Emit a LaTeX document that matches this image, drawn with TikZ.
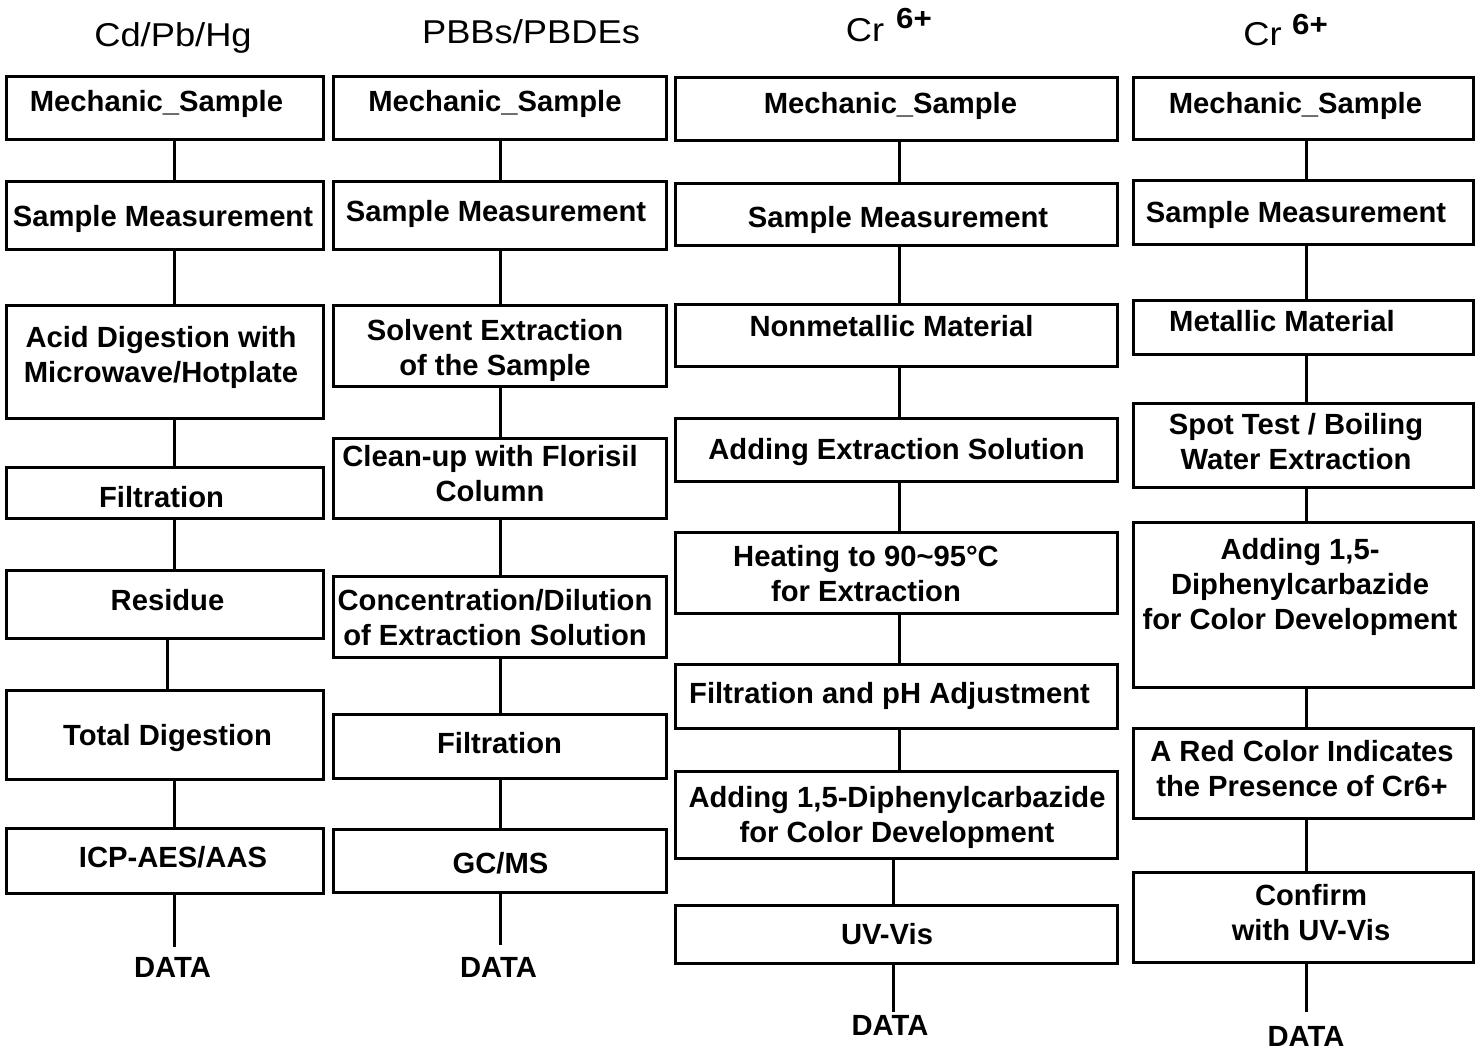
\documentclass[tikz,border=0pt]{standalone}
\usepackage{fontspec}
\setmainfont{Liberation Sans}
\usepackage{tikz}

\tikzset{
  box/.style 2 args={draw, line width=1.5pt, inner sep=0pt, minimum width=#1*0.5pt, minimum height=#2*0.5pt},
  txt/.style={inner sep=0pt, align=center, font=\fontsize{14.6}{17.5}\selectfont\bfseries},
  head/.style={inner sep=0pt, xscale=1.1, font=\fontsize{16.5}{20}\selectfont},
  supr/.style={inner sep=0pt, xscale=1.08, font=\fontsize{14.5}{17}\selectfont\bfseries},
  link/.style={line width=1.5pt},
}

\begin{document}
\begin{tikzpicture}[x=0.5pt,y=-0.5pt]
      \useasboundingbox (0,0) rectangle (1478,1049);
      \coordinate (l1)  at ( 174,0);
      \coordinate (l1b) at ( 167,0);
      \coordinate (l2)  at ( 500,0);
      \coordinate (l3)  at ( 899,0);
      \coordinate (l3b) at ( 893,0);
      \coordinate (l4)  at (1306,0);

      \node[head] (h1)  at ( 173  , 38  ) {Cd/Pb/Hg};
      \node[head] (h2)  at ( 531  , 32  ) {PBBs/PBDEs};
      \node[head] (h3)  at ( 865  , 30.5) {Cr};
      \node[supr] (h3s) at ( 914  , 19  ) {6+};
      \node[head] (h4)  at (1262.5, 34.5) {Cr};
      \node[supr] (h4s) at (1310  , 25  ) {6+};

      \node[box={317}{63}]  (a1) at ( 164.5, 107.5) {};
      \node[box={317}{68}]  (a2) at ( 164.5, 215  ) {};
      \node[box={317}{113}] (a3) at ( 164.5, 361.5) {};
      \node[box={317}{51}]  (a4) at ( 164.5, 492.5) {};
      \node[box={317}{68}]  (a5) at ( 164.5, 604  ) {};
      \node[box={317}{89}]  (a6) at ( 164.5, 734.5) {};
      \node[box={317}{65}]  (a7) at ( 164.5, 860.5) {};
      \node[txt] (a1t) at ( 156.5, 103.5) {Mechanic\_Sample};
      \node[txt] (a2t) at ( 163  , 219  ) {Sample Measurement};
      \node[txt] (a3t) at ( 161  , 357  ) {Acid Digestion with\\Microwave/Hotplate};
      \node[txt] (a4t) at ( 161.5, 497  ) {Filtration};
      \node[txt] (a5t) at ( 167.5, 600  ) {Residue};
      \node[txt] (a6t) at ( 167.5, 738  ) {Total Digestion};
      \node[txt] (a7t) at ( 173  , 857  ) {ICP-AES/AAS};
      \node[txt] (a8)  at ( 172.5, 967  ) {DATA};

      \node[box={333}{63}]  (b1) at ( 499.5, 107.5) {};
      \node[box={333}{68}]  (b2) at ( 499.5, 215  ) {};
      \node[box={333}{81}]  (b3) at ( 499.5, 345.5) {};
      \node[box={333}{80}]  (b4) at ( 499.5, 478  ) {};
      \node[box={333}{81}]  (b5) at ( 499.5, 616.5) {};
      \node[box={333}{64}]  (b6) at ( 499.5, 746  ) {};
      \node[box={333}{63}]  (b7) at ( 499.5, 860.5) {};
      \node[txt] (b1t) at ( 495  , 104  ) {Mechanic\_Sample};
      \node[txt] (b2t) at ( 496  , 214  ) {Sample Measurement};
      \node[txt] (b3t) at ( 495  , 350.5) {Solvent Extraction\\of the Sample};
      \node[txt] (b4t) at ( 490  , 473.5) {Clean-up with Florisil\\Column};
      \node[txt] (b5t) at ( 495  , 617.5) {Concentration/Dilution\\of Extraction Solution};
      \node[txt] (b6t) at ( 499.5, 743  ) {Filtration};
      \node[txt] (b7t) at ( 500.5, 863  ) {GC/MS};
      \node[txt] (b8)  at ( 498.5, 967  ) {DATA};

      \node[box={442}{63}]  (c1) at ( 896  , 108.5) {};
      \node[box={442}{62}]  (c2) at ( 896  , 214  ) {};
      \node[box={442}{62}]  (c3) at ( 896  , 335  ) {};
      \node[box={442}{63}]  (c4) at ( 896  , 449.5) {};
      \node[box={442}{81}]  (c5) at ( 896  , 572.5) {};
      \node[box={442}{64}]  (c6) at ( 896  , 696  ) {};
      \node[box={442}{87}]  (c7) at ( 896  , 814.5) {};
      \node[box={442}{58}]  (c8) at ( 896  , 934  ) {};
      \node[txt] (c1t) at ( 890.5, 106  ) {Mechanic\_Sample};
      \node[txt] (c2t) at ( 898  , 220  ) {Sample Measurement};
      \node[txt] (c3t) at ( 891.5, 326  ) {Nonmetallic Material};
      \node[txt] (c4t) at ( 896.5, 452  ) {Adding Extraction Solution};
      \node[txt] (c5t) at ( 866  , 573.5) {Heating to 90\textasciitilde95°C\\for Extraction};
      \node[txt] (c6t) at ( 889.5, 696  ) {Filtration and pH Adjustment};
      \node[txt] (c7t) at ( 897  , 817.5) {Adding 1,5-Diphenylcarbazide\\for Color Development};
      \node[txt] (c8t) at ( 887  , 934  ) {UV-Vis};
      \node[txt] (c9)  at ( 890  , 1025 ) {DATA};

      \node[box={340}{62}]  (d1) at (1303  , 108  ) {};
      \node[box={340}{64}]  (d2) at (1303  , 212  ) {};
      \node[box={340}{54}]  (d3) at (1303  , 327  ) {};
      \node[box={340}{84}]  (d4) at (1303  , 445  ) {};
      \node[box={340}{165}] (d5) at (1303  , 604.5) {};
      \node[box={340}{90}]  (d6) at (1303  , 773  ) {};
      \node[box={340}{90}]  (d7) at (1303  , 917  ) {};
      \node[txt] (d1t) at (1295.5, 106  ) {Mechanic\_Sample};
      \node[txt] (d2t) at (1296  , 215  ) {Sample Measurement};
      \node[txt] (d3t) at (1282  , 321  ) {Metallic Material};
      \node[txt] (d4t) at (1296  , 441.5) {Spot Test / Boiling\\Water Extraction};
      \node[txt] (d5t) at (1300  , 587  ) {Adding 1,5-\\Diphenylcarbazide\\for Color Development};
      \node[txt] (d6t) at (1302  , 768.5) {A Red Color Indicates\\the Presence of Cr6+};
      \node[txt] (d7t) at (1311  , 912.5) {Confirm\\with UV-Vis};
      \node[txt] (d8)  at (1306  , 1036 ) {DATA};

      \draw[link] (a1.south -| l1) -- (a2.north -| l1);
      \draw[link] (a2.south -| l1) -- (a3.north -| l1);
      \draw[link] (a3.south -| l1) -- (a4.north -| l1);
      \draw[link] (a4.south -| l1) -- (a5.north -| l1);
      \draw[link] (a5.south -| l1b) -- (a6.north -| l1b);
      \draw[link] (a6.south -| l1) -- (a7.north -| l1);
      \draw[link,shorten >=5pt] (a7.south -| l1) -- (a8.north -| l1);

      \draw[link] (b1.south -| l2) -- (b2.north -| l2);
      \draw[link] (b2.south -| l2) -- (b3.north -| l2);
      \draw[link] (b3.south -| l2) -- (b4.north -| l2);
      \draw[link] (b4.south -| l2) -- (b5.north -| l2);
      \draw[link] (b5.south -| l2) -- (b6.north -| l2);
      \draw[link] (b6.south -| l2) -- (b7.north -| l2);
      \draw[link,shorten >=6pt] (b7.south -| l2) -- (b8.north -| l2);

      \draw[link] (c1.south -| l3) -- (c2.north -| l3);
      \draw[link] (c2.south -| l3) -- (c3.north -| l3);
      \draw[link] (c3.south -| l3) -- (c4.north -| l3);
      \draw[link] (c4.south -| l3) -- (c5.north -| l3);
      \draw[link] (c5.south -| l3) -- (c6.north -| l3);
      \draw[link] (c6.south -| l3) -- (c7.north -| l3);
      \draw[link] (c7.south -| l3b) -- (c8.north -| l3b);
      \draw[link,shorten >=1.5pt] (c8.south -| l3b) -- (c9.north -| l3b);

      \draw[link] (d1.south -| l4) -- (d2.north -| l4);
      \draw[link] (d2.south -| l4) -- (d3.north -| l4);
      \draw[link] (d3.south -| l4) -- (d4.north -| l4);
      \draw[link] (d4.south -| l4) -- (d5.north -| l4);
      \draw[link] (d5.south -| l4) -- (d6.north -| l4);
      \draw[link] (d6.south -| l4) -- (d7.north -| l4);
      \draw[link,shorten >=7pt] (d7.south -| l4) -- (d8.north -| l4);
\end{tikzpicture}
\end{document}
